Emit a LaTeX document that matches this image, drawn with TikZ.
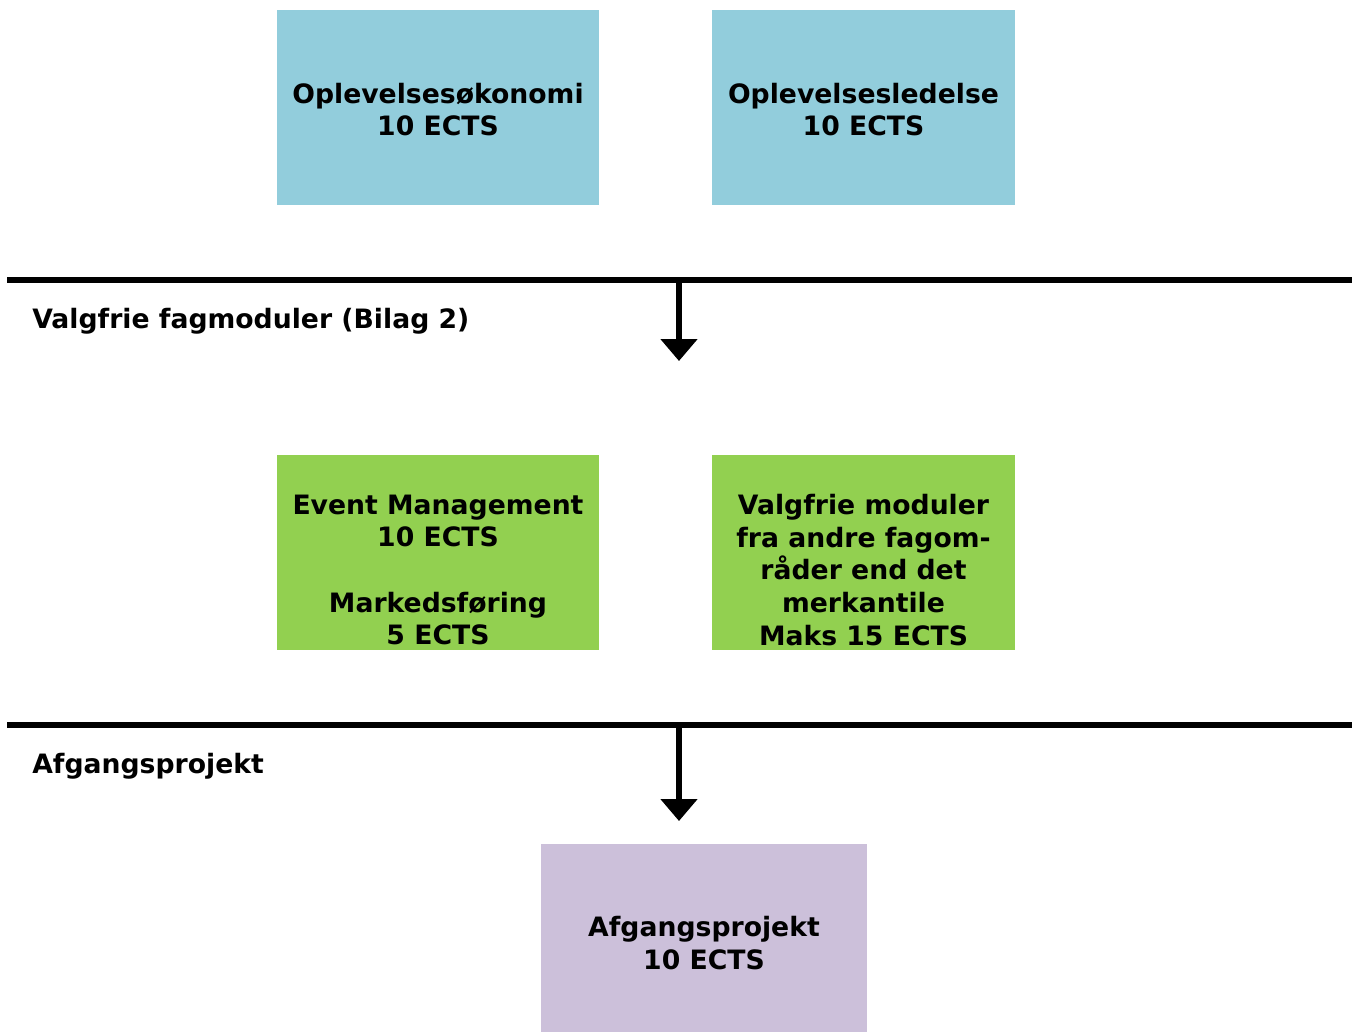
\documentclass[tikz,border=0pt]{standalone}
\usepackage{fontspec}
\setmainfont{DejaVu Sans}
\usetikzlibrary{arrows.meta}
\definecolor{boxblue}{HTML}{92CDDC}
\definecolor{boxgreen}{HTML}{92D050}
\definecolor{boxlilac}{HTML}{CCC0DA}
\tikzset{
  boxtext/.style={align=center, font=\bfseries\fontsize{20}{24.5}\selectfont, inner sep=0pt},
  sidelabel/.style={anchor=west, font=\bfseries\fontsize{20}{24.5}\selectfont, inner sep=0pt},
  rule/.style={line width=4.6pt},
  flow/.style={line width=3.8pt, -{Triangle[width=27pt,length=16.5pt]}},
}
\begin{document}
\begin{tikzpicture}[x=0.75pt, y=-0.75pt]
\useasboundingbox (0,0) rectangle (1357,1032);
% top boxes
\fill[boxblue] (277,10) rectangle (599,205);
\fill[boxblue] (712,10) rectangle (1015,205);
\node[boxtext] (oek) at (438,109.5) {Oplevelsesøkonomi\\10 ECTS};
\node[boxtext] (led) at (863.5,109.5) {Oplevelsesledelse\\10 ECTS};
% rule 1
\coordinate (r1a) at (7,280);
\coordinate (r1b) at (1352,280);
\draw[rule] (r1a) -- (r1b);
\coordinate (a1s) at (679,280);
\coordinate (a1e) at (679,361);
\draw[flow] (a1s) -- (a1e);
\node[sidelabel] (lab1) at (32,321) {Valgfrie fagmoduler (Bilag 2)};
% green boxes
\fill[boxgreen] (277,455) rectangle (599,650);
\fill[boxgreen] (712,455) rectangle (1015,650);
\node[boxtext] (event) at (438,570) {Event Management\\10 ECTS\\[24.5pt]Markedsføring\\5 ECTS};
\node[boxtext] (valg) at (863.5,570) {Valgfrie moduler\\fra andre fagom-\\råder end det\\merkantile\\Maks 15 ECTS};
% rule 2
\coordinate (r2a) at (7,725);
\coordinate (r2b) at (1352,725);
\draw[rule] (r2a) -- (r2b);
\coordinate (a2s) at (679,725);
\coordinate (a2e) at (679,821);
\draw[flow] (a2s) -- (a2e);
\node[sidelabel] (lab2) at (32,766) {Afgangsprojekt};
% bottom box
\fill[boxlilac] (541,844) rectangle (867,1032);
\node[boxtext] (afg) at (704,943) {Afgangsprojekt\\10 ECTS};
\end{tikzpicture}
\end{document}
